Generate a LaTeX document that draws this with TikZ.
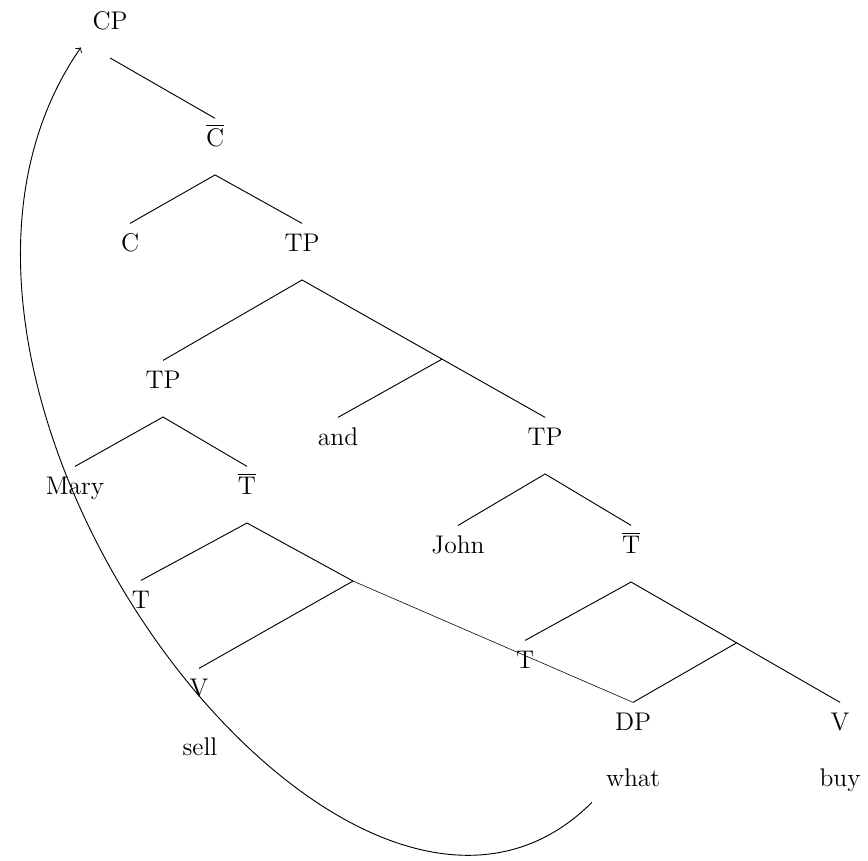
\documentclass[tikz,border=0pt]{standalone}
\usetikzlibrary{calc}

\begin{document}
\begin{tikzpicture}[
    lbl/.style={anchor=base, font=\fontsize{11}{13}\selectfont,
        text height=8pt, text depth=8pt, inner ysep=4pt},
    share/.style={line width=0.25pt}
]
    \useasboundingbox (0,0) rectangle (13.15,-13.03);

    % Top of the tree
    \node[lbl] (CP) at (1.667,-0.449) {CP};
    \node[lbl] (Cbar) at (3.258,-2.222) {$\overline{\mbox{C}}$};
    \node[lbl] (C) at (1.970,-3.813) {C};
    \node[lbl] (TPa) at (4.576,-3.813) {TP};

    % Coordination
    \node[lbl] (TPb) at (2.470,-5.889) {TP};
    \node[lbl] (and) at (5.121,-6.752) {and};
    \node[lbl] (TPc) at (8.258,-6.752) {TP};

    % First conjunct
    \node[lbl] (Mary) at (1.136,-7.495) {Mary};
    \node[lbl] (Tbar1) at (3.742,-7.495) {$\overline{\mbox{T}}$};
    \node[lbl] (T1) at (2.136,-9.222) {T};
    \node[lbl] (V1) at (3.015,-10.555) {V};
    \node[lbl] (sell) at (3.030,-11.449) {sell};

    % Second conjunct
    \node[lbl] (John) at (6.939,-8.389) {John};
    \node[lbl] (Tbar2) at (9.561,-8.389) {$\overline{\mbox{T}}$};
    \node[lbl] (T2) at (7.955,-10.131) {T};
    \node[lbl] (DP) at (9.591,-11.070) {DP};
    \node[lbl] (V2) at (12.727,-11.070) {V};
    \node[lbl] (what) at (9.591,-11.919) {what};
    \node[lbl] (buy) at (12.727,-11.919) {buy};

    % Branches
    \draw (CP.south) -- (Cbar.north);
    \draw (C.north) -- (Cbar.south) -- (TPa.north);
    \draw (TPb.north) -- (TPa.south) -- (TPc.north);
    \coordinate (conj) at ($(TPa.south)!0.576!(TPc.north)$);
    \draw (conj) -- (and.north);
    \draw (Mary.north) -- (TPb.south) -- (Tbar1.north);
    \coordinate (vp1) at (5.348,-8.803);
    \draw (T1.north) -- (Tbar1.south) -- (vp1) -- (V1.north);
    \draw (John.north) -- (TPc.south) -- (Tbar2.north);
    \draw (T2.north) -- (Tbar2.south) -- (V2.north);
    \coordinate (vp2) at ($(Tbar2.south)!0.505!(V2.north)$);
    \draw (DP.north) -- (vp2);

    % Shared object
    \draw[share] (vp1) -- (DP.north);

    % Movement
    \draw[->] ([shift={(-2.5pt,5.5pt)}]what.south west)
        .. controls +(-3.712,-3.712) and +(-3.515,-5.076) ..
        ([shift={(-1.5pt,4.5pt)}]CP.south west);
\end{tikzpicture}
\end{document}
